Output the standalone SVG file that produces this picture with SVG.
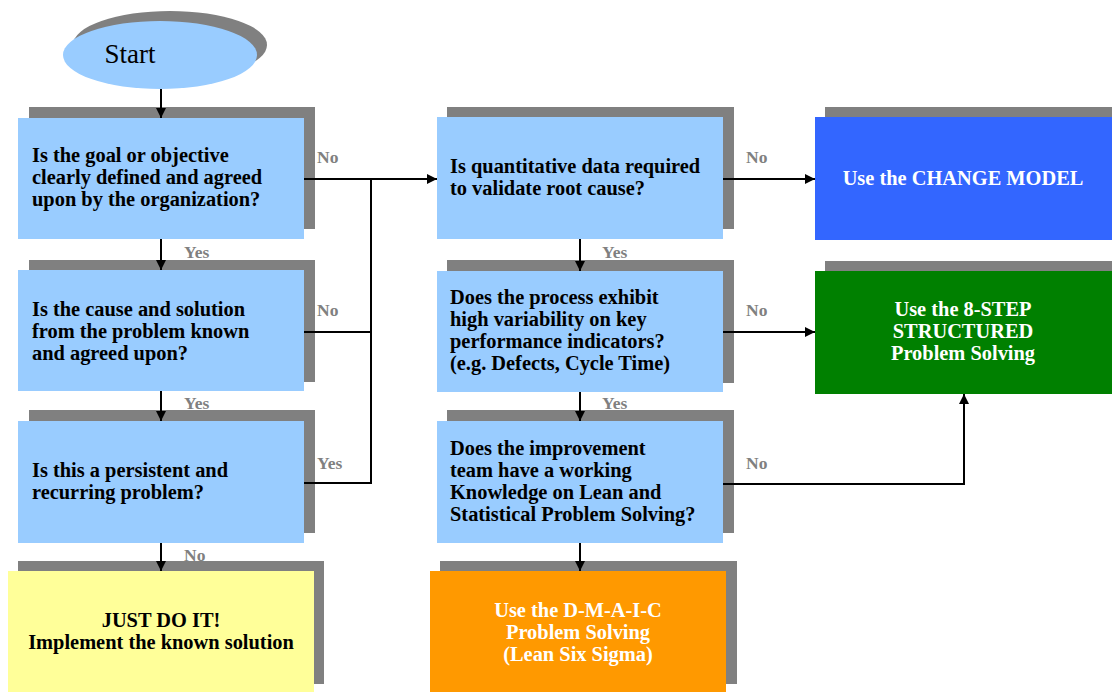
<svg xmlns="http://www.w3.org/2000/svg" width="1112" height="692" viewBox="0 0 1112 692">
<style>
.sh{fill:#808080}
.q{fill:#99CCFF}
.t{font-family:"Liberation Serif","Times New Roman",serif;font-weight:bold;font-size:20.4px;fill:#000}
.w{font-family:"Liberation Serif","Times New Roman",serif;font-weight:bold;font-size:20.4px;fill:#fff;text-anchor:middle}
.lb{font-family:"Liberation Serif","Times New Roman",serif;font-weight:bold;font-size:17.5px;fill:#808080}
.c{fill:none;stroke:#000;stroke-width:2}
</style>
<defs>
<marker id="ah" viewBox="0 0 10 10" refX="10" refY="5" markerWidth="5" markerHeight="5" orient="auto" markerUnits="strokeWidth">
<path d="M0,0 L10,5 L0,10 Z" fill="#000"/>
</marker>
</defs>
<rect width="1112" height="692" fill="#fff"/>
<g id="start">
<ellipse class="sh" cx="170" cy="45" rx="97" ry="34"/>
<ellipse cx="160" cy="55" rx="97" ry="34" fill="#99CCFF"/>
<text x="130" y="63" text-anchor="middle" font-family="Liberation Serif,serif" font-size="27" fill="#000">Start</text>
</g>
<g id="q1">
<rect class="sh" x="29" y="107" width="286" height="122"/>
<rect class="q" x="18" y="118" width="286" height="121"/>
<text class="t" x="32" y="162">Is the goal or objective</text>
<text class="t" x="32" y="184">clearly defined and agreed</text>
<text class="t" x="32" y="206">upon by the organization?</text>
</g>
<g id="q2">
<rect class="sh" x="29" y="260" width="286" height="122"/>
<rect class="q" x="18" y="270" width="286" height="121"/>
<text class="t" x="32" y="316">Is the cause and solution</text>
<text class="t" x="32" y="338">from the problem known</text>
<text class="t" x="32" y="360">and agreed upon?</text>
</g>
<g id="q3">
<rect class="sh" x="29" y="410" width="286" height="123"/>
<rect class="q" x="18" y="421" width="286" height="122"/>
<text class="t" x="32" y="477">Is this a persistent and</text>
<text class="t" x="32" y="499">recurring problem?</text>
</g>
<g id="justdo">
<rect class="sh" x="18" y="561" width="306" height="123"/>
<rect x="8" y="571" width="306" height="121" fill="#FFFF99"/>
<text class="t" x="161" y="627" text-anchor="middle">JUST DO IT!</text>
<text class="t" x="161" y="649" text-anchor="middle">Implement the known solution</text>
</g>
<g id="q4">
<rect class="sh" x="447" y="107" width="287" height="122"/>
<rect class="q" x="437" y="117" width="286" height="122"/>
<text class="t" x="450" y="173">Is quantitative data required</text>
<text class="t" x="450" y="195">to validate root cause?</text>
</g>
<g id="q5">
<rect class="sh" x="447" y="260" width="287" height="123"/>
<rect class="q" x="437" y="271" width="286" height="121"/>
<text class="t" x="450" y="304">Does the process exhibit</text>
<text class="t" x="450" y="326">high variability on key</text>
<text class="t" x="450" y="348">performance indicators?</text>
<text class="t" x="450" y="370">(e.g. Defects, Cycle Time)</text>
</g>
<g id="q6">
<rect class="sh" x="447" y="410" width="287" height="123"/>
<rect class="q" x="437" y="421" width="286" height="122"/>
<text class="t" x="450" y="455">Does the improvement</text>
<text class="t" x="450" y="477">team have a working</text>
<text class="t" x="450" y="499">Knowledge on Lean and</text>
<text class="t" x="450" y="521">Statistical Problem Solving?</text>
</g>
<g id="dmaic">
<rect class="sh" x="440" y="561" width="297" height="123"/>
<rect x="430" y="571" width="296" height="121" fill="#FF9900"/>
<text class="w" x="578" y="617">Use the D-M-A-I-C</text>
<text class="w" x="578" y="639">Problem Solving</text>
<text class="w" x="578" y="661">(Lean Six Sigma)</text>
</g>
<g id="change">
<rect class="sh" x="825" y="107" width="287" height="123"/>
<rect x="815" y="117" width="297" height="123" fill="#3366FF"/>
<text class="w" x="963" y="185">Use the CHANGE  MODEL</text>
</g>
<g id="eightstep">
<rect class="sh" x="825" y="261" width="287" height="123"/>
<rect x="815" y="271" width="297" height="123" fill="#008000"/>
<text class="w" x="963" y="316">Use the 8-STEP</text>
<text class="w" x="963" y="338">STRUCTURED</text>
<text class="w" x="963" y="360">Problem Solving</text>
</g>
<g id="connectors">
<path class="c" d="M161,89 V118" marker-end="url(#ah)"/>
<path class="c" d="M161,239 V270" marker-end="url(#ah)"/>
<path class="c" d="M161,391 V421" marker-end="url(#ah)"/>
<path class="c" d="M161,543 V571" marker-end="url(#ah)"/>
<path class="c" d="M304,179 H437" marker-end="url(#ah)"/>
<path class="c" d="M304,332 H371"/>
<path class="c" d="M304,483 H371 V179"/>
<path class="c" d="M723,179 H815" marker-end="url(#ah)"/>
<path class="c" d="M723,332 H815" marker-end="url(#ah)"/>
<path class="c" d="M580,239 V271" marker-end="url(#ah)"/>
<path class="c" d="M580,392 V421" marker-end="url(#ah)"/>
<path class="c" d="M580,543 V571" marker-end="url(#ah)" stroke="#333"/>
<path class="c" d="M723,484 H964 V394" marker-end="url(#ah)"/>
<text class="lb" x="317" y="163">No</text>
<text class="lb" x="317" y="316">No</text>
<text class="lb" x="317" y="469">Yes</text>
<text class="lb" x="184" y="258">Yes</text>
<text class="lb" x="184" y="409">Yes</text>
<text class="lb" x="184" y="561">No</text>
<text class="lb" x="746" y="163">No</text>
<text class="lb" x="746" y="316">No</text>
<text class="lb" x="746" y="469">No</text>
<text class="lb" x="602" y="258">Yes</text>
<text class="lb" x="602" y="409">Yes</text>
</g>
</svg>
